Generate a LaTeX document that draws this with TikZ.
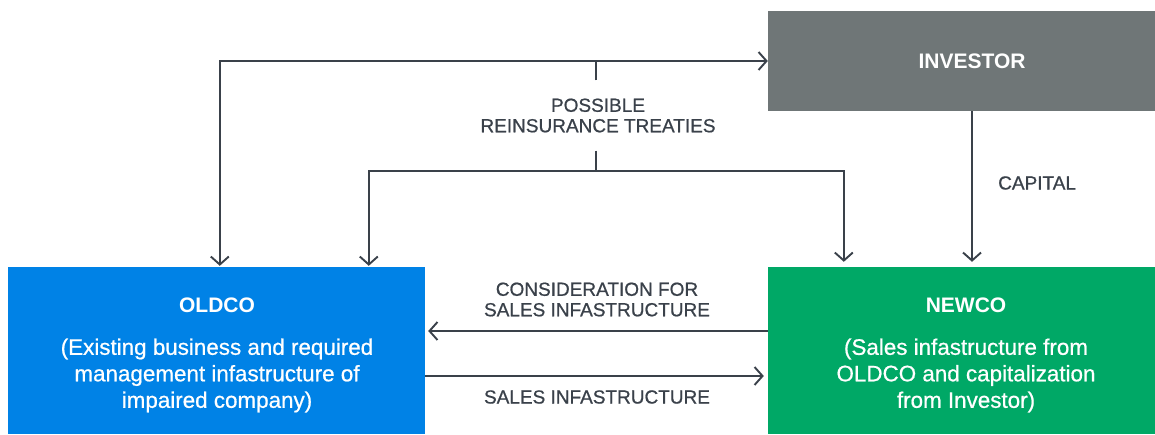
\documentclass[tikz,border=0pt]{standalone}
\usepackage{fontspec}
\setmainfont{Liberation Sans}
\newfontfamily\medfont[FakeBold=0.7]{Liberation Sans}
\usetikzlibrary{arrows.meta}
\definecolor{oldblue}{HTML}{0082E6}
\definecolor{newgreen}{HTML}{00A866}
\definecolor{invgray}{HTML}{6F7677}
\definecolor{ink}{HTML}{3A414A}
\begin{document}
\begin{tikzpicture}[x=1pt,y=-1pt,
  box/.style={rectangle, draw=none, inner sep=0pt},
  boxtitle/.style={text=white, inner sep=0pt, font=\fontsize{21}{25}\selectfont\bfseries},
  boxdesc/.style={text=white, inner sep=0pt, align=center, font=\medfont\fontsize{22.4}{26.5}\selectfont},
  lab/.style={text=ink, inner sep=0pt, align=center, font=\medfont\fontsize{19}{20.5}\selectfont},
  conn/.style={draw=ink, line width=1.9pt},
  tip/.style={arrows={-{Straight Barb[length=8pt,width=18pt,line width=1.9pt]}}},
  tips/.style={arrows={{Straight Barb[length=8pt,width=18pt,line width=1.9pt]}-{Straight Barb[length=8pt,width=18pt,line width=1.9pt]}}}
]
\clip (0,0) rectangle (1155,434);
\fill[white] (0,0) rectangle (1155,434);

% boxes
\node[box, fill=invgray, minimum width=408pt, minimum height=100pt, boxtitle] (investor) at (972,61) {INVESTOR};
\node[box, fill=oldblue, minimum width=417pt, minimum height=167pt] (oldco) at (216.5,350.5) {};
\node[box, fill=newgreen, minimum width=394pt, minimum height=167pt] (newco) at (965,350.5) {};

% box texts
\node[boxtitle] (oldcot) at (217,305) {OLDCO};
\node[boxdesc] (oldcod) at (217,375.5) {(Existing business and required\\management infastructure of\\impaired company)};
\node[boxtitle] (newcot) at (966,305) {NEWCO};
\node[boxdesc] (newcod) at (966,375.5) {(Sales infastructure from\\OLDCO and capitalization\\from Investor)};

% reinsurance treaties
\node[lab, inner ysep=18pt] (treaty) at (598,115.5) {POSSIBLE\\REINSURANCE TREATIES};
\coordinate (tj) at (596,171);
\draw[conn] (treaty.north -| tj) -- (tj |- investor.west);
\draw[conn] (treaty.south -| tj) -- (tj);
\draw[conn, tips, shorten <=1pt] ([xshift=212pt]oldco.north west) |- (investor.west);
\draw[conn, tips, shorten <=1pt, shorten >=5pt] ([xshift=361pt]oldco.north west) |- (tj) -| ([xshift=76pt]newco.north west);

% capital
\draw[conn, tip, shorten >=5pt] (investor.south) -- (investor.south |- newco.north);
\node[lab, anchor=west] (capital) at (998,183) {CAPITAL};

% consideration / sales
\draw[conn, tip, shorten >=3pt] ([yshift=19.5pt]newco.west) -- ([yshift=19.5pt]oldco.east);
\node[lab] (consid) at (597,299.5) {CONSIDERATION FOR\\SALES INFASTRUCTURE};
\draw[conn, tip, shorten >=4pt] ([yshift=-25.5pt]oldco.east) -- ([yshift=-25.5pt]newco.west);
\node[lab] (sales) at (597,397) {SALES INFASTRUCTURE};
\end{tikzpicture}
\end{document}
